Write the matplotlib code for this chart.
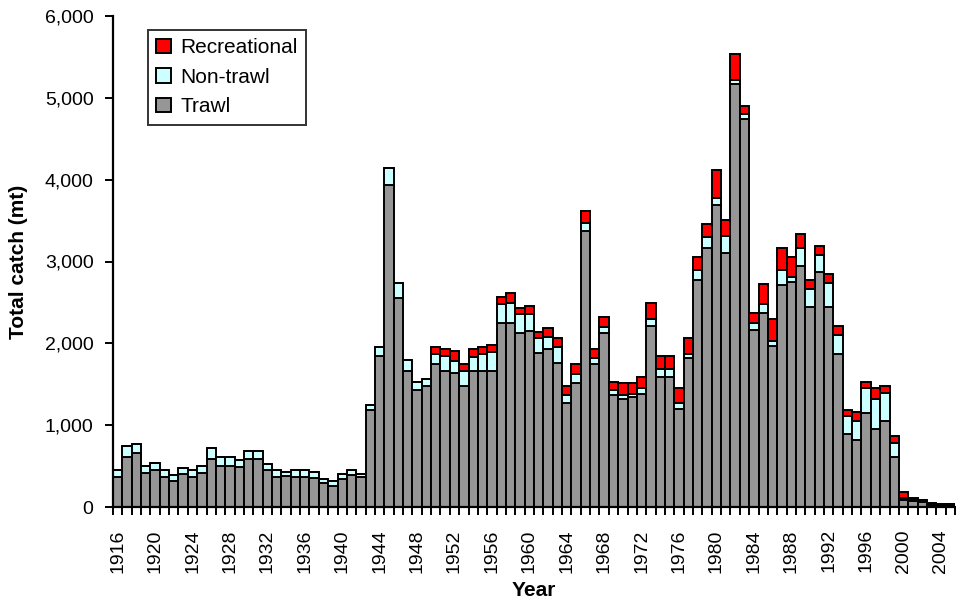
import matplotlib
matplotlib.use("Agg")
import matplotlib.pyplot as plt
import numpy as np
from matplotlib.ticker import FuncFormatter, FixedLocator

plt.rcParams['font.family'] = ['Liberation Sans', 'DejaVu Sans']

years = list(range(1916, 2006))

trawl = [370, 610, 655, 420, 450, 370, 320, 400, 370, 420,
         585, 500, 500, 485, 585, 585, 450, 370, 380, 370,
         370, 350, 290, 255, 340, 390, 370, 1185, 1845, 3935,
         2555, 1665, 1430, 1480, 1745, 1665, 1640, 1480, 1665, 1665,
         1665, 2245, 2245, 2125, 2145, 1880, 1925, 1765, 1265, 1510,
         3375, 1745, 2130, 1370, 1315, 1340, 1375, 2215, 1585, 1585,
         1195, 1815, 2775, 3160, 3690, 3105, 5165, 4740, 2165, 2365,
         1970, 2715, 2755, 2945, 2450, 2870, 2450, 1870, 890, 820,
         1150, 950, 1055, 605, 85, 70, 65, 30, 25, 25]

nontrawl = [80, 135, 120, 80, 85, 80, 75, 80, 78, 85,
            130, 105, 105, 90, 105, 105, 75, 80, 45, 80,
            80, 75, 55, 60, 60, 60, 30, 60, 115, 205,
            185, 130, 100, 80, 125, 180, 145, 185, 170, 205,
            230, 235, 250, 230, 210, 185, 155, 190, 105, 120,
            100, 80, 65, 60, 55, 40, 75, 80, 100, 100,
            75, 55, 120, 135, 80, 205, 55, 60, 80, 115,
            60, 185, 55, 215, 210, 210, 290, 230, 220, 235,
            300, 365, 340, 180, 30, 20, 15, 10, 8, 8]

recreational = [0] * 34 + [
            90, 80, 120, 80, 95, 90,
            90, 90, 120, 75, 105, 75, 110, 110, 105, 115,
            140, 100, 130, 100, 140, 130, 140, 195, 165, 165,
            190, 190, 165, 165, 345, 195, 315, 100, 130, 240,
            265, 270, 250, 170, 115, 115, 105, 115, 80, 100,
            80, 135, 80, 85, 70, 25, 10, 5, 3, 3]

label_years = list(range(1916, 2006, 4))
y_ticks = [0, 1000, 2000, 3000, 4000, 5000, 6000]

fig = plt.figure(figsize=(9.56, 6.02), dpi=100)
ax = fig.add_axes([113/956, 95/602, 842/956, 491/602])

x = np.arange(len(years))
t = np.array(trawl)
n = np.array(nontrawl)
r = np.array(recreational)
ec = 'black'
lw = 1.4
b1 = ax.bar(x, t, width=1.0, color='#969696', edgecolor=ec, linewidth=lw, label='Trawl')
b2 = ax.bar(x, n, width=1.0, bottom=t, color='#CCFFFF', edgecolor=ec, linewidth=lw, label='Non-trawl')
b3 = ax.bar(x, r, width=1.0, bottom=t + n, color='#FF0000', edgecolor=ec, linewidth=lw, label='Recreational')

ax.set_xlim(-0.5, len(years) - 0.5)
ax.set_ylim(0, 6000)

ax.set_yticks(y_ticks)
ax.yaxis.set_major_formatter(FuncFormatter(lambda v, p: f"{int(v):,}"))
ax.tick_params(axis='y', direction='out', length=6, width=1.4, labelsize=14, pad=8)

major_pos = [years.index(yv) for yv in label_years]
ax.set_xticks(major_pos)
ax.set_xticklabels([str(yv) for yv in label_years], rotation=90, fontsize=14)
ax.tick_params(axis='x', which='major', length=0, pad=16)
ax.xaxis.set_minor_locator(FixedLocator(np.arange(-0.5, len(years), 1.0)))
ax.tick_params(axis='x', which='minor', direction='out', length=6, width=1.4)

for s in ['top', 'right']:
    ax.spines[s].set_visible(False)
for s in ['left', 'bottom']:
    ax.spines[s].set_linewidth(1.6)
    ax.spines[s].set_color('black')

ax.set_ylabel('Total catch (mt)', fontsize=15, fontweight='bold', labelpad=12)
ax.set_xlabel('Year', fontsize=15, fontweight='bold', labelpad=6)

leg = ax.legend(handles=[b3, b2, b1], labels=['Recreational', 'Non-trawl', 'Trawl'],
                loc='upper left', bbox_to_anchor=(35/842, (507-30)/491),
                borderaxespad=0, fontsize=15, frameon=True, fancybox=False,
                handlelength=0.7, handleheight=0.7, handletextpad=0.45,
                labelspacing=0.5, borderpad=0.4)
leg.get_frame().set_edgecolor('black')
leg.get_frame().set_linewidth(1.4)

fig.savefig('out.png', dpi=100)
